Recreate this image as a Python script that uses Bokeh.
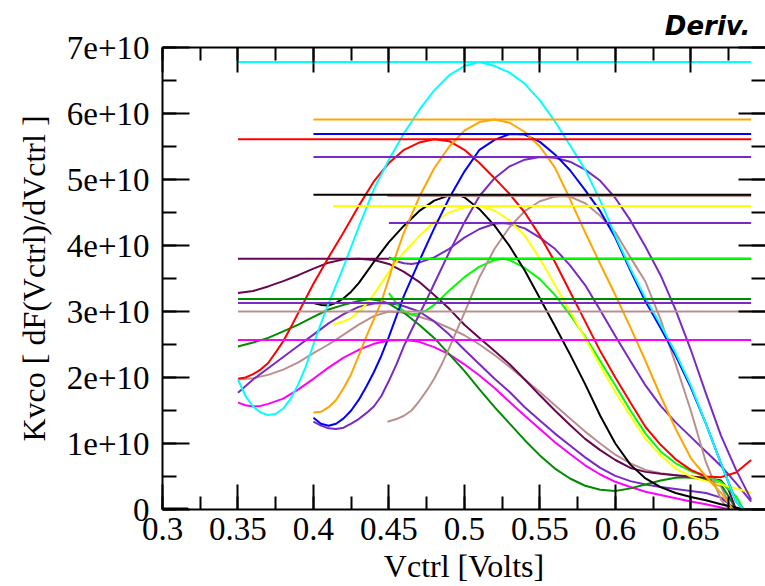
from bokeh.plotting import figure
from bokeh.models import Range1d, LinearAxis, SingleIntervalTicker, CustomJSTickFormatter
from bokeh.embed import file_html
from bokeh.resources import INLINE

# ---------------- data (y values in units of 1e10) ----------------
x_cyan = [0.350,0.355,0.360,0.365,0.370,0.375,0.380,0.385,0.390,0.395,0.400,0.405,0.410,
          0.420,0.430,0.440,0.450,0.460,0.470,0.480,0.490,0.500,0.510,0.520,0.530,0.540,0.550,
          0.560,0.570,0.580,0.590,0.600,0.610,0.620,0.630,0.640,0.650,0.660,0.670,0.680,0.685]
y_cyan = [1.97,1.72,1.56,1.47,1.43,1.45,1.53,1.68,1.90,2.17,2.50,2.82,3.12,
          3.68,4.28,4.85,5.30,5.70,6.05,6.35,6.58,6.72,6.78,6.72,6.62,6.45,6.20,
          5.88,5.52,5.15,4.68,4.15,3.65,3.20,2.80,2.37,1.88,1.30,0.70,0.12,0.0]

x_red = [0.350,0.355,0.360,0.365,0.370,0.375,0.380,0.385,0.390,0.395,0.400,
         0.410,0.420,0.430,0.440,0.450,0.460,0.470,0.480,0.490,0.500,0.510,0.520,0.530,0.540,
         0.550,0.560,0.570,0.580,0.590,0.600,0.610,0.620,0.630,0.640,0.650,0.660,0.670,0.680,0.690]
y_red = [1.98,2.00,2.05,2.12,2.22,2.38,2.55,2.76,2.98,3.20,3.42,
         3.82,4.20,4.60,4.97,5.25,5.45,5.56,5.61,5.58,5.45,5.25,5.02,4.78,4.50,
         4.15,3.75,3.30,2.85,2.40,2.00,1.62,1.25,0.98,0.76,0.60,0.50,0.49,0.56,0.75]

x_orange = [0.400,0.405,0.410,0.415,0.420,0.425,0.430,0.435,0.440,0.445,0.450,0.455,0.460,
            0.470,0.480,0.490,0.500,0.510,0.520,0.530,0.540,0.550,0.560,0.570,0.580,0.590,
            0.600,0.610,0.620,0.630,0.640,0.650,0.660,0.670,0.678]
y_orange = [1.47,1.48,1.55,1.66,1.84,2.05,2.33,2.62,2.88,3.15,3.50,3.88,4.20,
            4.73,5.17,5.50,5.74,5.87,5.91,5.86,5.72,5.50,5.18,4.70,4.20,3.72,
            3.25,2.76,2.25,1.72,1.22,0.78,0.50,0.25,0.0]

x_blue = [0.400,0.405,0.410,0.415,0.420,0.425,0.430,0.435,0.440,0.445,0.450,0.455,0.460,
          0.470,0.480,0.490,0.500,0.510,0.520,0.530,0.540,0.550,0.560,0.570,0.580,0.590,
          0.600,0.610,0.620,0.630,0.640,0.650,0.660,0.670,0.680,0.685]
y_blue = [1.39,1.30,1.27,1.30,1.38,1.50,1.66,1.86,2.08,2.33,2.62,2.93,3.24,
          3.76,4.26,4.72,5.12,5.45,5.60,5.69,5.68,5.57,5.38,5.14,4.84,4.52,
          4.12,3.62,3.15,2.75,2.33,1.85,1.30,0.70,0.12,0.0]

x_violet = [0.400,0.405,0.410,0.415,0.420,0.425,0.430,0.435,0.440,0.445,0.450,0.455,0.460,
            0.465,0.470,0.475,0.480,0.490,0.500,0.510,0.520,0.530,0.540,0.550,0.560,0.570,
            0.580,0.590,0.600,0.610,0.620,0.630,0.640,0.650,0.660,0.670,0.680,0.690]
y_violet = [1.33,1.27,1.23,1.22,1.24,1.30,1.37,1.46,1.56,1.72,1.95,2.20,2.48,
            2.72,2.95,3.18,3.42,3.90,4.35,4.75,5.02,5.20,5.30,5.34,5.33,5.27,
            5.15,4.98,4.72,4.38,3.98,3.55,3.02,2.42,1.76,1.12,0.60,0.15]

x_black = [0.400,0.405,0.410,0.415,0.420,0.425,0.430,0.435,0.440,0.450,0.460,0.470,0.480,
           0.490,0.495,0.500,0.510,0.520,0.530,0.540,0.550,0.560,0.570,0.580,0.590,0.600,
           0.610,0.620,0.630,0.640,0.650,0.660,0.670,0.680,0.685,0.700]
y_black = [3.13,3.10,3.09,3.13,3.20,3.30,3.43,3.59,3.75,4.05,4.30,4.52,4.68,
           4.76,4.77,4.73,4.55,4.30,3.99,3.62,3.20,2.78,2.35,1.90,1.42,1.00,
           0.68,0.47,0.34,0.25,0.19,0.14,0.08,0.03,0.0,0.0]

x_brown1 = [0.449,0.455,0.460,0.465,0.470,0.475,0.480,0.485,0.490,0.500,0.510,0.520,0.530,
            0.540,0.550,0.560,0.565,0.570,0.580,0.590,0.600,0.610,0.620,0.630,0.640,0.650,
            0.660,0.670,0.675]
y_brown1 = [1.33,1.37,1.42,1.50,1.64,1.80,1.98,2.20,2.45,2.98,3.52,3.95,4.28,
            4.52,4.67,4.74,4.75,4.74,4.64,4.45,4.20,3.82,3.45,2.88,2.20,1.50,
            0.72,0.15,0.0]

x_yellow = [0.413,0.420,0.425,0.430,0.435,0.440,0.445,0.450,0.460,0.470,0.480,0.490,0.500,
            0.510,0.520,0.530,0.540,0.550,0.560,0.570,0.580,0.590,0.600,0.610,0.620,0.630,
            0.640,0.650,0.660,0.670,0.680,0.690]
y_yellow = [2.80,2.85,2.90,3.00,3.11,3.26,3.43,3.60,3.90,4.14,4.36,4.50,4.58,
            4.60,4.53,4.38,4.15,3.80,3.40,3.00,2.60,2.18,1.78,1.42,1.07,0.82,
            0.62,0.50,0.43,0.38,0.32,0.25]

x_indigo = [0.450,0.455,0.460,0.465,0.470,0.480,0.490,0.500,0.510,0.520,0.525,0.530,0.540,
            0.550,0.560,0.570,0.580,0.590,0.600,0.610,0.620,0.630,0.640,0.650,0.660,0.670,
            0.680,0.690]
y_indigo = [3.82,3.76,3.73,3.72,3.74,3.82,3.95,4.12,4.25,4.33,4.34,4.33,4.26,
            4.12,3.95,3.70,3.40,3.02,2.63,2.25,1.88,1.57,1.32,1.10,0.88,0.66,
            0.40,0.12]

x_lime = [0.450,0.455,0.460,0.465,0.470,0.475,0.480,0.490,0.500,0.510,0.520,0.525,0.530,
          0.540,0.550,0.560,0.570,0.580,0.590,0.600,0.610,0.620,0.630,0.640,0.650,0.660,
          0.670,0.680,0.685]
y_lime = [3.28,3.12,3.00,2.96,2.97,3.02,3.10,3.32,3.52,3.68,3.78,3.80,3.78,
          3.66,3.49,3.25,2.95,2.62,2.25,1.88,1.50,1.15,0.88,0.70,0.58,0.50,
          0.42,0.20,0.0]

x_maroon = [0.350,0.360,0.370,0.380,0.390,0.400,0.410,0.420,0.430,0.440,0.450,0.460,0.470,
            0.480,0.490,0.500,0.510,0.520,0.530,0.540,0.550,0.560,0.570,0.580,0.590,0.600,
            0.610,0.620,0.630,0.640,0.650,0.660,0.670,0.675,0.680]
y_maroon = [3.28,3.31,3.38,3.46,3.55,3.65,3.74,3.79,3.80,3.78,3.72,3.60,3.45,
            3.25,3.04,2.80,2.60,2.40,2.20,1.97,1.73,1.50,1.28,1.07,0.90,0.75,
            0.63,0.57,0.54,0.52,0.50,0.48,0.44,0.30,0.0]

x_green4 = [0.350,0.360,0.370,0.380,0.390,0.400,0.410,0.420,0.430,0.437,0.445,0.450,0.460,
            0.470,0.480,0.490,0.500,0.510,0.520,0.530,0.540,0.550,0.560,0.570,0.580,0.590,
            0.600,0.610,0.620,0.630,0.640,0.650,0.660,0.670,0.675,0.680]
y_green4 = [2.47,2.53,2.60,2.70,2.80,2.92,3.03,3.10,3.16,3.19,3.16,3.12,2.98,
            2.80,2.60,2.35,2.10,1.82,1.55,1.30,1.05,0.82,0.62,0.47,0.36,0.30,
            0.28,0.32,0.38,0.44,0.48,0.49,0.46,0.38,0.20,0.0]

x_purple = [0.350,0.360,0.370,0.380,0.390,0.400,0.410,0.420,0.430,0.440,0.447,0.455,0.460,
            0.470,0.480,0.490,0.500,0.510,0.520,0.530,0.540,0.550,0.560,0.570,0.580,0.590,
            0.600,0.610,0.620,0.630,0.640,0.650,0.660,0.670,0.680]
y_purple = [1.77,1.97,2.14,2.31,2.48,2.65,2.82,2.96,3.07,3.12,3.13,3.11,3.08,
            3.00,2.85,2.65,2.42,2.20,1.98,1.78,1.55,1.35,1.15,0.97,0.79,0.63,
            0.51,0.43,0.38,0.34,0.31,0.28,0.25,0.18,0.0]

x_brown2 = [0.350,0.360,0.370,0.380,0.390,0.400,0.410,0.420,0.430,0.440,0.450,0.460,0.470,
            0.480,0.490,0.500,0.510,0.520,0.530,0.540,0.550,0.560,0.570,0.580,0.590,0.600,
            0.610,0.620,0.630,0.640,0.650,0.660,0.670,0.675,0.678]
y_brown2 = [1.97,1.99,2.04,2.12,2.23,2.37,2.50,2.65,2.80,2.93,3.00,2.98,2.92,
            2.85,2.75,2.64,2.50,2.34,2.16,1.97,1.78,1.58,1.38,1.18,1.00,0.83,
            0.70,0.60,0.55,0.52,0.48,0.45,0.35,0.10,0.0]

x_magenta = [0.350,0.355,0.360,0.365,0.370,0.380,0.390,0.400,0.410,0.420,0.430,0.440,0.450,
             0.460,0.470,0.480,0.490,0.500,0.510,0.520,0.530,0.540,0.550,0.560,0.570,0.580,
             0.590,0.600,0.610,0.620,0.630,0.640,0.650,0.660,0.670,0.675]
y_magenta = [1.62,1.58,1.56,1.57,1.60,1.68,1.82,1.98,2.15,2.30,2.42,2.51,2.56,
             2.57,2.54,2.46,2.35,2.20,2.03,1.84,1.63,1.42,1.22,1.02,0.84,0.67,
             0.53,0.42,0.34,0.27,0.22,0.17,0.12,0.08,0.03,0.0]

x_base = [0.300, 0.317]
y_base = [0.0, 0.0]

max_line_end = 0.69   # horizontal "maximum" markers run to this Vctrl
UNIT = 1e10

x_ticks_labels = ["0.3", "0.35", "0.4", "0.45", "0.5", "0.55", "0.6", "0.65"]
y_ticks_labels = ["0", "1e+10", "2e+10", "3e+10", "4e+10", "5e+10", "6e+10", "7e+10"]

series = [
    (x_magenta, y_magenta, "#ff00ff"),
    (x_brown2, y_brown2, "#bc8f8f"),
    (x_purple, y_purple, "#7a2ac4"),
    (x_green4, y_green4, "#008b00"),
    (x_maroon, y_maroon, "#67074f"),
    (x_lime, y_lime, "#00ff00"),
    (x_indigo, y_indigo, "#7a2ac4"),
    (x_yellow, y_yellow, "#ffff00"),
    (x_brown1, y_brown1, "#bc8f8f"),
    (x_black, y_black, "#000000"),
    (x_violet, y_violet, "#7a2ac4"),
    (x_red, y_red, "#ff0000"),
    (x_blue, y_blue, "#0000ff"),
    (x_orange, y_orange, "#ffa500"),
    (x_cyan, y_cyan, "#00ffff"),
]

# ---------------- figure ----------------
p = figure(width=765, height=586, output_backend="svg", toolbar_location=None,
           x_range=Range1d(0.3, 0.6995), y_range=Range1d(0, 7e10),
           min_border_left=162, min_border_right=0, min_border_top=47, min_border_bottom=76)
p.outline_line_color = None
p.grid.visible = False
p.background_fill_color = "white"
p.border_fill_color = "white"

p.title.text = "Deriv."
p.title.align = "right"
p.title.text_font = "DejaVu Sans"
p.title.text_font_style = "bold italic"
p.title.text_font_size = "26px"
p.title.text_color = "black"
p.title.offset = 15
p.title.standoff = 14

for xs, ys, col in series:
    yv = [v * UNIT for v in ys]
    p.line(xs, yv, line_color=col, line_width=2)
for xs, ys, col in series:
    peak = max(ys) * UNIT
    p.line([xs[0], max_line_end], [peak, peak], line_color=col, line_width=2)

p.line(x_base, [v * UNIT for v in y_base], line_color="black", line_width=4)

serif = "Liberation Serif"
xfmt = CustomJSTickFormatter(args=dict(labels=x_ticks_labels), code="""
    const i = Math.round((tick - 0.3) / 0.05);
    return (i >= 0 && i < labels.length) ? labels[i] : "";
""")
yfmt = CustomJSTickFormatter(args=dict(labels=y_ticks_labels), code="""
    const i = Math.round(tick / 1e10);
    return (i >= 0 && i < labels.length) ? labels[i] : "";
""")
blank = CustomJSTickFormatter(code="return '';")

def style(ax, interval, major_len, minor_len):
    ax.ticker = SingleIntervalTicker(interval=interval, num_minor_ticks=2)
    ax.major_tick_in = major_len
    ax.major_tick_out = 0
    ax.minor_tick_in = minor_len
    ax.minor_tick_out = 0
    ax.major_tick_line_width = 2
    ax.minor_tick_line_width = 2
    ax.major_tick_line_color = "black"
    ax.minor_tick_line_color = "black"
    ax.axis_line_width = 2
    ax.axis_line_color = "black"

xa = p.xaxis[0]
style(xa, 0.05, 25, 13)
xa.formatter = xfmt
xa.major_label_text_font = serif
xa.major_label_text_font_size = "33px"
xa.major_label_text_color = "black"
xa.major_label_standoff = 8
xa.axis_label = "Vctrl [Volts]"
xa.axis_label_text_font = serif
xa.axis_label_text_font_size = "32px"
xa.axis_label_text_font_style = "normal"
xa.axis_label_text_color = "black"
xa.axis_label_standoff = 5

ya = p.yaxis[0]
style(ya, 1e10, 27, 14)
ya.formatter = yfmt
ya.major_label_text_font = serif
ya.major_label_text_font_size = "33px"
ya.major_label_text_color = "black"
ya.major_label_standoff = 13
ya.axis_label = "Kvco [ dF(Vctrl)/dVctrl ]"
ya.axis_label_text_font = serif
ya.axis_label_text_font_size = "32px"
ya.axis_label_text_font_style = "normal"
ya.axis_label_text_color = "black"
ya.axis_label_standoff = 12

top = LinearAxis()
style(top, 0.05, 25, 13)
top.formatter = blank
top.major_label_text_font_size = "1px"
top.major_label_standoff = 0
p.add_layout(top, "above")

right = LinearAxis()
style(right, 1e10, 27, 14)
right.formatter = blank
right.major_label_text_font_size = "1px"
right.major_label_standoff = 0
right.axis_line_color = None
p.add_layout(right, "right")

open("out.html", "w").write(file_html(p, INLINE))
